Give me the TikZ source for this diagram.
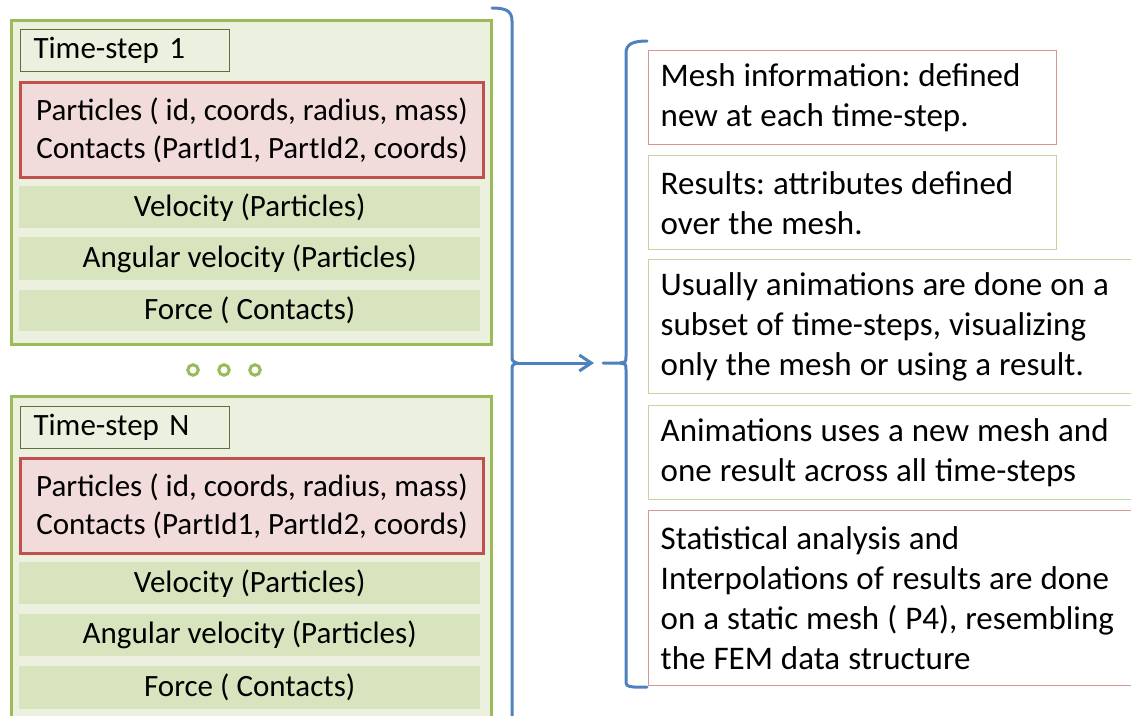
\documentclass[tikz,border=0pt]{standalone}
\usepackage{fontspec}
\setmainfont{Carlito}
\usetikzlibrary{arrows.meta}
\definecolor{olivegreen}{HTML}{9BBB59}
\definecolor{palegreen}{HTML}{EBF1DE}
\definecolor{bandgreen}{HTML}{D7E4BD}
\definecolor{labelline}{HTML}{5E7036}
\definecolor{brickred}{HTML}{C0504D}
\definecolor{palered}{HTML}{F2DCDB}
\definecolor{notered}{HTML}{D99694}
\definecolor{notegreen}{HTML}{C3D69B}
\definecolor{braceblue}{HTML}{4F81BD}
% word spacing for the notes
\DeclareRobustCommand\notespacing{\frenchspacing\spaceskip=8pt plus 2pt minus 1pt\relax}
\tikzset{
  leftfont/.style={font=\fontsize{31}{38}\selectfont},
  rightfont/.style={font=\fontsize{33}{40}\selectfont\notespacing},
  stepframe/.style={draw=olivegreen, line width=3pt, fill=palegreen, anchor=north west,
    inner sep=0pt, minimum width=480pt, minimum height=#1},
  steplabel/.style={draw=labelline, line width=1.1pt, fill=palegreen, anchor=north west,
    minimum width=209pt, minimum height=42pt, inner xsep=13pt, text width=183pt,
    align=left, leftfont},
  meshbox/.style={draw=brickred, line width=3pt, fill=palered, anchor=north west,
    minimum width=463pt, minimum height=95pt, inner sep=0pt, align=center, leftfont},
  attrband/.style={fill=bandgreen, anchor=north west, minimum width=461pt,
    minimum height=#1, inner sep=0pt, leftfont},
  dotring/.style={circle, draw=olivegreen, line width=3pt, minimum size=10.5pt, inner sep=0pt},
  notebox/.style={draw=#1, line width=1.4pt, anchor=north west, inner xsep=12pt,
    inner ysep=0pt, align=flush left, rightfont},
  bracestroke/.style={draw=braceblue, line width=3pt, line cap=round},
  flowarrow/.style={draw=braceblue, line width=3pt,
    -{Straight Barb[length=12pt, width=16pt, line width=3pt]}}
}
\begin{document}
\begin{tikzpicture}[x=1pt, y=-1pt]
\useasboundingbox (0,0) rectangle (1131,715);
\clip (0,0) rectangle (1131,715);

% first time-step block
\node[stepframe=324pt] (frame1) at (10,19) {};
\node[steplabel] (label1) at (20,29) {Time-step 1};
\node[meshbox] (geom1) at (19,81) {Particles ( id, coords, radius, mass)\\Contacts (PartId1, PartId2, coords)};
\node[attrband=42pt] (vel1) at (19,186) {Velocity (Particles)};
\node[attrband=43pt] (ang1) at (19,237) {Angular velocity (Particles)};
\node[attrband=41pt] (force1) at (19,290) {Force ( Contacts)};

% ellipsis between blocks
\node[dotring] (dot1) at (193,370) {};
\node[dotring] (dot2) at (224,370) {};
\node[dotring] (dot3) at (255,370) {};

% last time-step block (continues below the page)
\node[stepframe=340pt] (frameN) at (10,395) {};
\node[steplabel] (labelN) at (20,406) {Time-step N};
\node[meshbox] (geomN) at (19,457) {Particles ( id, coords, radius, mass)\\Contacts (PartId1, PartId2, coords)};
\node[attrband=42pt] (velN) at (19,562) {Velocity (Particles)};
\node[attrband=42pt] (angN) at (19,614) {Angular velocity (Particles)};
\node[attrband=43pt] (forceN) at (19,666) {Force ( Contacts)};

% notes on the right
\node[notebox=notered, minimum width=408pt, minimum height=94pt, text width=384pt] (mesh) at (648,50)
  {Mesh information: defined\\new at each time-step.};
\node[notebox=notegreen, minimum width=408pt, minimum height=94pt, text width=384pt] (results) at (648,155)
  {Results: attributes defined\\over the mesh.};
\node[notebox=notegreen, minimum width=500pt, minimum height=134pt, text width=476pt] (anim) at (648,259)
  {Usually animations are done on a\\subset of time-steps, visualizing\\only the mesh or using a result.};
\node[notebox=notegreen, minimum width=500pt, minimum height=94pt, text width=476pt] (across) at (648,405)
  {Animations uses a new mesh and\\one result across all time-steps};
\node[notebox=notered, minimum width=500pt, minimum height=175pt, text width=476pt] (stats) at (648,510)
  {Statistical analysis and\\Interpolations of results are done\\on a static mesh ( P4), resembling\\the FEM data structure};

% closing brace round the time-steps
\coordinate (ltip) at (517,363);
\draw[bracestroke] (492,8) .. controls (506,8) and (512,11) .. (512,21) -- (512,355)
  .. controls (512,361) .. (ltip) .. controls (512,365) .. (512,371) -- (512,730);

% opening bracket round the notes
\coordinate (rtip) at (603,363);
\draw[bracestroke] (647,41) .. controls (633,41) and (626,44) .. (626,53) -- (626,356)
  .. controls (626,362) .. (620,363) -- (rtip);
\draw[bracestroke] (620,363) .. controls (626,364) .. (626,370) -- (626,679)
  .. controls (626,686) .. (634,687) -- (647,687);

% flow from the time-steps to the notes
\draw[flowarrow, shorten >=9pt] (ltip) -- (rtip);
\end{tikzpicture}
\end{document}
